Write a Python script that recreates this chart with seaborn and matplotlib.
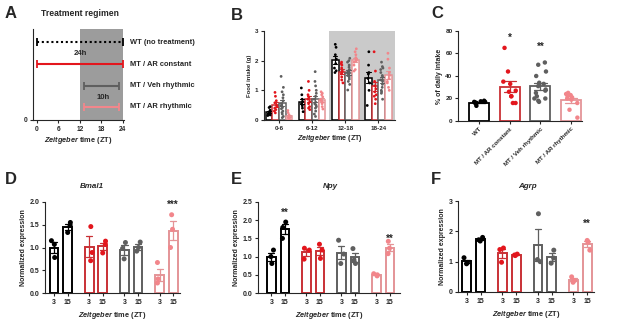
import numpy as np
import pandas as pd
import seaborn as sns
import matplotlib.pyplot as plt

# ---------------- data ----------------
GROUPS = ['WT', 'MT / AR constant', 'MT / Veh rhythmic', 'MT / AR rhythmic']
COLORS = ['#000000', '#e3161d', '#5f5f5f', '#f2868b']
PALETTE = dict(zip(GROUPS, COLORS))

# A: treatment schedule, ZT hours
REGIMEN_NAMES = ['WT (no treatment)', 'MT / AR constant', 'MT / Veh rhythmic', 'MT / AR rhythmic']
REGIMEN_START = [0, 0, 13, 13]
REGIMEN_END = [24, 24, 23, 23]

# B: food intake (g) per 6 h bin
BINS = ['0-6', '6-12', '12-18', '18-24']
INTAKE_WT = {
    '0-6': [0.45, 0.42, 0.33, 0.28, 0.24, 0.20, 0.17, 0.15],
    '6-12': [1.08, 0.85, 0.70, 0.62, 0.55, 0.48, 0.40, 0.28],
    '12-18': [2.55, 2.45, 2.20, 2.05, 1.90, 1.75, 1.60, 1.66],
    '18-24': [2.30, 1.85, 1.60, 1.55, 1.40, 1.25, 1.00, 0.49],
}
INTAKE_AR_CONST = {
    '0-6': [0.93, 0.80, 0.65, 0.58, 0.50, 0.45, 0.40, 0.35, 0.30, 0.24],
    '6-12': [1.30, 1.00, 0.85, 0.78, 0.70, 0.62, 0.55, 0.45, 0.40, 0.35],
    '12-18': [1.95, 1.90, 1.85, 1.75, 1.65, 1.60, 1.55, 1.45, 1.35, 1.25],
    '18-24': [2.30, 1.65, 1.30, 1.15, 1.05, 0.95, 0.85, 0.70, 0.55, 0.80],
}
INTAKE_VEH_RHYTHM = {
    '0-6': [1.47, 1.10, 0.95, 0.85, 0.75, 0.65, 0.55, 0.48, 0.42, 0.38, 0.30, 0.25, 0.20, 0.12, 0.08],
    '6-12': [1.63, 1.30, 1.15, 1.00, 0.90, 0.80, 0.70, 0.60, 0.55, 0.50, 0.45, 0.40, 0.30, 0.20, 0.12],
    '12-18': [2.08, 2.00, 1.95, 1.85, 1.78, 1.70, 1.65, 1.60, 1.55, 1.50, 1.45, 1.38, 1.30, 1.20, 1.01],
    '18-24': [1.95, 1.80, 1.75, 1.70, 1.60, 1.50, 1.45, 1.35, 1.30, 1.20, 1.10, 1.00, 0.95, 0.90, 0.70],
}
INTAKE_AR_RHYTHM = {
    '0-6': [0.32, 0.25, 0.18, 0.12, 0.10, 0.08, 0.06, 0.05, 0.03, 0.01],
    '6-12': [0.95, 0.90, 0.85, 0.78, 0.70, 0.65, 0.60, 0.55, 0.45, 0.37],
    '12-18': [2.40, 2.30, 2.20, 2.10, 2.05, 2.00, 1.95, 1.85, 1.70, 1.65],
    '18-24': [2.25, 2.05, 1.75, 1.60, 1.50, 1.40, 1.30, 1.25, 1.10, 1.00],
}

# C: % of daily intake
PCT_WT = [18, 17.5, 17, 17, 16.5, 16, 15.5, 13.5]
PCT_AR_CONST = [65, 44, 35, 33, 27, 26, 22, 22, 16, 16]
PCT_VEH_RHYTHM = [52, 50, 44, 40, 34, 33, 31, 28, 27, 25, 22, 20, 20, 18, 17]
PCT_AR_RHYTHM = [25, 24, 23, 22, 21, 20, 19, 16, 10, 3]

# D-F: normalized expression at ZT3 / ZT15
ZT = [3, 15]
BMAL1_ZT3 = [[1.15, 1.07, 0.78], [1.46, 0.89, 0.71], [1.11, 0.98, 0.75], [0.67, 0.31, 0.22]]
BMAL1_ZT15 = [[1.55, 1.49, 1.33], [1.14, 1.07, 0.88], [1.12, 1.00, 0.92], [1.72, 1.40, 1.00]]
NPY_ZT3 = [[1.18, 1.00, 0.81], [1.23, 1.18, 0.93], [1.45, 1.07, 0.81], [0.53, 0.50, 0.47]]
NPY_ZT15 = [[1.95, 1.80, 1.50], [1.34, 1.18, 0.95], [1.22, 0.90, 0.81], [1.42, 1.23, 1.08]]
AGRP_ZT3 = [[1.13, 0.97, 0.93], [1.45, 1.40, 0.98], [2.58, 1.07, 1.00], [0.50, 0.38, 0.32]]
AGRP_ZT15 = [[1.80, 1.72, 1.68], [1.25, 1.22, 1.20], [1.38, 1.12, 0.95], [1.70, 1.65, 1.38]]

# ---------------- style ----------------
sns.set_theme(style='ticks')
plt.rcParams['font.family'] = ['Liberation Sans', 'DejaVu Sans']
plt.rcParams['font.weight'] = 'bold'
plt.rcParams['axes.labelweight'] = 'bold'
plt.rcParams['mathtext.fontset'] = 'custom'
plt.rcParams['mathtext.it'] = 'Liberation Sans:italic:bold'
plt.rcParams['mathtext.rm'] = 'Liberation Sans:bold'
plt.rcParams['axes.linewidth'] = 0.8
plt.rcParams['xtick.major.width'] = 0.8
plt.rcParams['ytick.major.width'] = 0.8
plt.rcParams['xtick.major.size'] = 2.5
plt.rcParams['ytick.major.size'] = 2.5
plt.rcParams['xtick.major.pad'] = 1.5
plt.rcParams['ytick.major.pad'] = 1.5

ZT_LABEL = r'$\it{Zeitgeber}$ time (ZT)'
W, H = 617, 325
np.random.seed(4)

fig = plt.figure(figsize=(6.17, 3.25), dpi=100)


def box(l, t, r, b):
    return [l / W, 1 - b / H, (r - l) / W, (b - t) / H]


def hollow(ax):
    # white bars with coloured outlines, error bars in the bar colour
    bars = list(ax.patches)
    centers = np.array([p.get_x() + p.get_width() / 2 for p in bars])
    cols = [p.get_facecolor() for p in bars]
    for p, c in zip(bars, cols):
        p.set_facecolor('white')
        p.set_edgecolor(c)
    for ln in ax.lines:
        x = np.nanmean(ln.get_xdata())
        ln.set_color(cols[int(np.argmin(np.abs(centers - x)))])


def letter(x, y, s):
    fig.text(x / W, 1 - y / H, s, fontsize=12, fontweight='bold', va='center', ha='left')


# ---------------- A ----------------
axA = fig.add_axes(box(33, 29, 124, 120))
axA.axvspan(12, 24, color='#9c9c9c', lw=0, zorder=0)
rows_y = [0.857, 0.615, 0.374, 0.143]
styles = [(0, (1, 1.3)), '-', '-', '-']
for name, s, e, y, c, ls in zip(REGIMEN_NAMES, REGIMEN_START, REGIMEN_END, rows_y, COLORS, styles):
    axA.plot([s, e], [y, y], color=c, lw=1.5, ls=ls, solid_capstyle='butt', clip_on=False)
    axA.plot([s, e], [y, y], color=c, marker='|', ms=6, mew=1.3, ls='none', clip_on=False)
    axA.text(26, y, name, fontsize=5.4, va='center', ha='left', clip_on=False)
axA.text((REGIMEN_START[1] + REGIMEN_END[1]) / 2, 0.736, f'{REGIMEN_END[1] - REGIMEN_START[1]}h',
         fontsize=5.6, ha='center', va='center')
axA.text((REGIMEN_START[3] + REGIMEN_END[3]) / 2 + 0.5, 0.242, f'{REGIMEN_END[3] - REGIMEN_START[3]}h',
         fontsize=5.6, ha='center', va='center')
axA.set_xlim(-1.1, 24.3)
axA.set_ylim(0, 1)
axA.set_xticks([0, 6, 12, 18, 24])
axA.set_yticks([0])
axA.tick_params(labelsize=4.8)
axA.set_xlabel(ZT_LABEL, fontsize=5.3, labelpad=2)
sns.despine(ax=axA)
fig.text(41 / W, 1 - 14 / H, 'Treatment regimen', fontsize=6.2, fontweight='bold', va='center')
letter(5, 14, 'A')

# ---------------- B ----------------
rows = []
for g, d in zip(GROUPS, [INTAKE_WT, INTAKE_AR_CONST, INTAKE_VEH_RHYTHM, INTAKE_AR_RHYTHM]):
    for b in BINS:
        rows += [(g, b, v) for v in d[b]]
dfB = pd.DataFrame(rows, columns=['group', 'bin', 'intake'])

axB = fig.add_axes(box(264, 31, 395, 120))
sns.barplot(data=dfB, x='bin', y='intake', hue='group', order=BINS, hue_order=GROUPS,
            palette=PALETTE, errorbar='se', capsize=0.5, err_kws={'linewidth': 0.8},
            linewidth=1.1, legend=False, ax=axB)
hollow(axB)
sns.stripplot(data=dfB, x='bin', y='intake', hue='group', order=BINS, hue_order=GROUPS,
              palette=PALETTE, dodge=True, jitter=0.15, size=2.0, legend=False, ax=axB, zorder=4)
axB.axvspan(1.5, 3.5, color='#cacaca', lw=0, zorder=0)
axB.set_xlim(-0.45, 3.5)
axB.set_ylim(0, 3)
axB.set_yticks([0, 1, 2, 3])
axB.tick_params(labelsize=4.5)
axB.set_ylabel('Food intake (g)', fontsize=4.2, labelpad=2)
axB.set_xlabel(ZT_LABEL, fontsize=5.1, labelpad=2)
sns.despine(ax=axB)
letter(231, 15, 'B')

# ---------------- C ----------------
dfC = pd.DataFrame(
    [(g, v) for g, vals in zip(GROUPS, [PCT_WT, PCT_AR_CONST, PCT_VEH_RHYTHM, PCT_AR_RHYTHM]) for v in vals],
    columns=['group', 'pct'])
axC = fig.add_axes(box(458, 31, 582, 121))
sns.barplot(data=dfC, x='group', y='pct', hue='group', order=GROUPS, hue_order=GROUPS,
            palette=PALETTE, errorbar='se', capsize=0.4, width=0.65,
            err_kws={'linewidth': 0.9}, linewidth=1.3, legend=False, ax=axC)
hollow(axC)
sns.stripplot(data=dfC, x='group', y='pct', hue='group', order=GROUPS, hue_order=GROUPS,
              palette=PALETTE, jitter=0.22, size=3.2, legend=False, ax=axC, zorder=4)
axC.text(1, 74, '*', fontsize=7, ha='center', va='center')
axC.text(2, 66, '**', fontsize=7, ha='center', va='center')
axC.set_xlim(-0.68, 3.35)
axC.set_ylim(0, 80)
axC.set_yticks([0, 20, 40, 60, 80])
axC.tick_params(labelsize=4.6)
axC.set_xticks(range(4))
axC.set_xticklabels(GROUPS, rotation=45, ha='right', rotation_mode='anchor', fontsize=4.4)
axC.set_xlabel('')
axC.set_ylabel('% of daily intake', fontsize=5, labelpad=2)
sns.despine(ax=axC)
letter(431, 14, 'C')

# ---------------- D-F ----------------
GROUP_STEP = 2.6


def gene_panel(rect, zt3, zt15, title, ylim, yticks, fmt, xlim, stars, title_x):
    rows = []
    for gi, g in enumerate(GROUPS):
        for ti, vals in enumerate([zt3[gi], zt15[gi]]):
            rows += [(g, ZT[ti], gi * GROUP_STEP + ti, v) for v in vals]
    df = pd.DataFrame(rows, columns=['group', 'zt', 'pos', 'value'])
    ax = fig.add_axes(rect)
    sns.barplot(data=df, x='pos', y='value', hue='group', hue_order=GROUPS, palette=PALETTE,
                native_scale=True, width=0.65, errorbar='se', capsize=0.45,
                err_kws={'linewidth': 0.9}, linewidth=1.4, legend=False, ax=ax)
    hollow(ax)
    sns.stripplot(data=df, x='pos', y='value', hue='group', hue_order=GROUPS, palette=PALETTE,
                  native_scale=True, jitter=0.22, size=3.6, legend=False, ax=ax, zorder=4)
    pos = sorted(df['pos'].unique())
    ax.set_xticks(pos)
    ax.set_xticklabels([str(z) for _ in GROUPS for z in ZT], fontsize=5)
    ax.set_xlim(*xlim)
    ax.set_ylim(*ylim)
    ax.set_yticks(yticks)
    ax.set_yticklabels([fmt.format(t) for t in yticks], fontsize=5)
    for gi, y, s in stars:
        ax.text(gi * GROUP_STEP + 1, y, s, fontsize=7, ha='center', va='center')
    ax.set_xlabel(ZT_LABEL, fontsize=5.3, labelpad=3)
    ax.set_ylabel('Normalized expression', fontsize=5, labelpad=2)
    sns.despine(ax=ax)
    fig.text(title_x / W, 1 - 186.5 / H, title, fontsize=5.8, fontstyle='italic',
             fontweight='bold', ha='center', va='center')
    return ax


gene_panel(box(45, 202, 180, 293), BMAL1_ZT3, BMAL1_ZT15, 'Bmal1', (0, 2.0),
           [0, 0.5, 1.0, 1.5, 2.0], '{:.1f}', (-0.67, 9.3), [(3, 1.93, '***')], 92)
gene_panel(box(258, 202, 400, 293), NPY_ZT3, NPY_ZT15, 'Npy', (0, 2.5),
           [0, 0.5, 1.0, 1.5, 2.0, 2.5], '{:.1f}', (-1.0, 9.55),
           [(0, 2.2, '**'), (3, 1.5, '**')], 330)
gene_panel(box(458, 201, 594, 292), AGRP_ZT3, AGRP_ZT15, 'Agrp', (0, 3),
           [0, 1, 2, 3], '{:.0f}', (-0.65, 9.3), [(3, 2.25, '**')], 527)
letter(5, 180, 'D')
letter(231, 180, 'E')
letter(431, 180, 'F')

fig.savefig('out.png', dpi=100)
